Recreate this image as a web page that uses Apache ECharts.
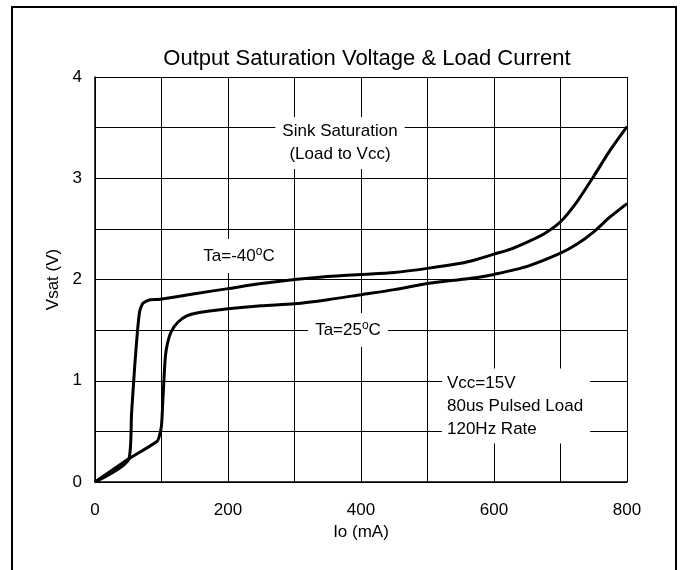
<!DOCTYPE html>
<html>
<head>
<meta charset="utf-8">
<script src="https://cdn.jsdelivr.net/npm/echarts@6/dist/echarts.min.js"></script>
<style>
html,body{margin:0;padding:0;background:#fff;}
#c{width:684px;height:570px;}
</style>
</head>
<body>
<div id="c"></div>
<script>
// Data (Io in mA, Vsat in V)
const ta40 = [
  [0,0],[51,0.23],[55,0.68],[60,1.17],[64,1.5],[67,1.68],[70,1.74],[73,1.77],[83,1.80],[98,1.805],
  [150,1.86],[200,1.91],[250,1.96],[300,2.0],[350,2.03],[400,2.05],[450,2.07],[500,2.11],
  [550,2.16],[575,2.2],[600,2.25],[625,2.30],[650,2.37],[675,2.45],[700,2.57],[725,2.77],
  [750,3.02],[775,3.28],[800,3.51]
];
const ta25 = [
  [0,0],[51,0.23],[93,0.40],[97,0.46],[100,0.56],[102,0.8],[104,1.05],[106,1.25],[109,1.37],
  [115,1.49],[125,1.58],[138,1.64],[153,1.67],[200,1.71],[250,1.74],[300,1.76],[350,1.80],
  [400,1.85],[450,1.90],[500,1.96],[550,2.0],[575,2.02],[600,2.05],[650,2.13],[700,2.26],
  [725,2.35],[750,2.47],[775,2.62],[800,2.75]
];
const xLabels = [0,200,400,600,800];
const yLabels = [0,1,2,3,4];

const FONT = 'Liberation Sans, Arial, sans-serif';
const chart = echarts.init(document.getElementById('c'));
const lineStyleCommon = {color:'#000', width:3};
chart.setOption({
  animation:false,
  backgroundColor:'#fff',
  title:{
    text:'Output Saturation Voltage & Load Current',
    left:362, top:43, textAlign:'center',
    textStyle:{fontFamily:FONT, fontSize:22, fontWeight:'normal', color:'#000'}
  },
  grid:{left:95, right:57, top:77, bottom:88},
  xAxis:{
    type:'value', min:0, max:800, interval:100,
    name:'Io (mA)', nameLocation:'middle', nameGap:38,
    nameTextStyle:{fontFamily:FONT, fontSize:17, color:'#000'},
    axisLine:{show:true, lineStyle:{color:'#000', width:1.5}},
    axisTick:{show:false},
    axisLabel:{margin:20, fontFamily:FONT, fontSize:17, color:'#000',
      formatter:v => xLabels.indexOf(v) >= 0 ? String(v) : ''},
    splitLine:{show:true, lineStyle:{color:'#000', width:1}}
  },
  yAxis:{
    type:'value', min:0, max:4, interval:0.5,
    name:'Vsat (V)', nameLocation:'middle', nameGap:33,
    nameTextStyle:{fontFamily:FONT, fontSize:17, color:'#000'},
    axisLine:{show:true, lineStyle:{color:'#000', width:1.5}},
    axisTick:{show:false},
    axisLabel:{margin:13, fontFamily:FONT, fontSize:17, color:'#000',
      formatter:v => yLabels.indexOf(v) >= 0 ? String(v) : ''},
    splitLine:{show:true, lineStyle:{color:'#000', width:1}}
  },
  series:[
    {name:'Ta=-40C', type:'line', data:ta40, showSymbol:false, smooth:0.25, lineStyle:lineStyleCommon, z:5},
    {name:'Ta=25C', type:'line', data:ta25, showSymbol:false, smooth:0.25, lineStyle:lineStyleCommon, z:5}
  ],
  graphic:[
    {type:'rect', shape:{x:12, y:7, width:664, height:620}, style:{fill:null, stroke:'#000', lineWidth:2}, z:100, silent:true},
    {type:'text', x:340, y:143, z:50, style:{
      text:'Sink Saturation\n(Load to Vcc)', align:'center', verticalAlign:'middle',
      fontFamily:FONT, fontSize:17, lineHeight:23, fill:'#000',
      backgroundColor:'#fff', padding:[3,7,3,7]}},
    {type:'text', x:239, y:256, z:50, style:{
      text:'Ta=-40{s|o}C', align:'center', verticalAlign:'middle',
      fontFamily:FONT, fontSize:17, lineHeight:20, fill:'#000',
      rich:{s:{fontFamily:FONT, fontSize:12, verticalAlign:'top', lineHeight:20, fill:'#000'}},
      backgroundColor:'#fff', padding:[7,6,7,6]}},
    {type:'text', x:348, y:330, z:50, style:{
      text:'Ta=25{s|o}C', align:'center', verticalAlign:'middle',
      fontFamily:FONT, fontSize:17, lineHeight:20, fill:'#000',
      rich:{s:{fontFamily:FONT, fontSize:12, verticalAlign:'top', lineHeight:20, fill:'#000'}},
      backgroundColor:'#fff', padding:[7,7,7,7]}},
    {type:'text', x:442, y:406, z:50, style:{
      text:'Vcc=15V\n80us Pulsed Load\n120Hz Rate', align:'left', verticalAlign:'middle',
      fontFamily:FONT, fontSize:17, lineHeight:23, fill:'#000',
      backgroundColor:'#fff', padding:[3,7,3,5]}}
  ]
});
</script>
</body>
</html>
